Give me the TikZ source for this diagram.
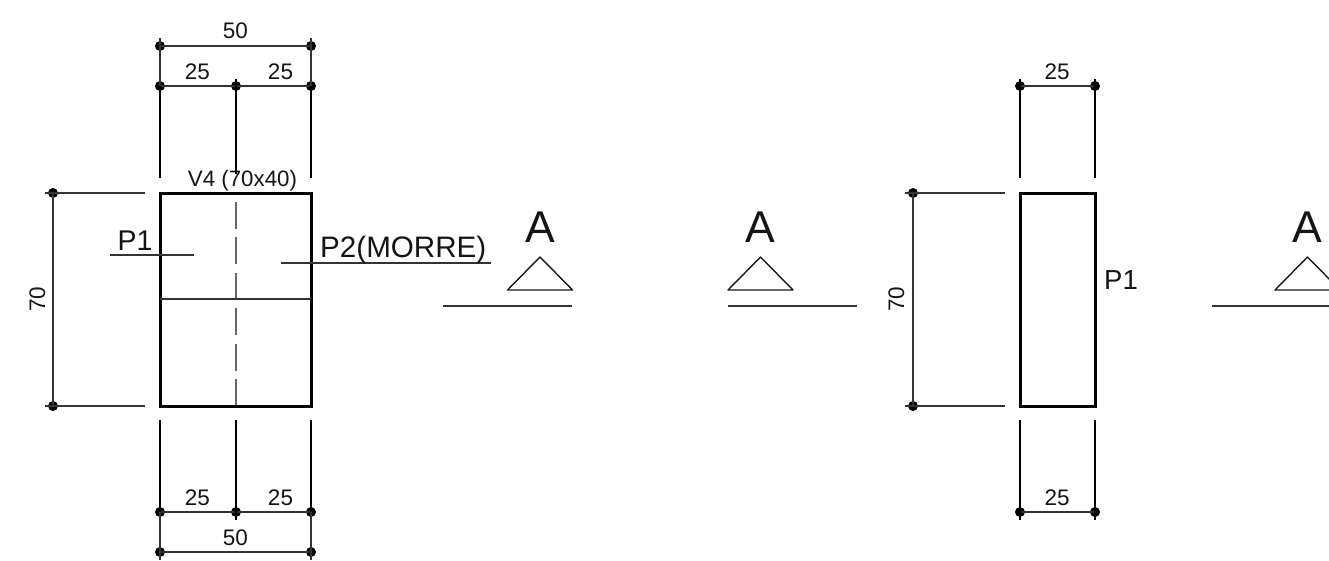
\documentclass[tikz,border=0pt]{standalone}
\usepackage{fontspec}
\setmainfont{Liberation Sans}
\tikzset{
  x=1pt,y=-1pt,
  dimline/.style={line width=1.3pt,draw=black!80},
  extline/.style={line width=1.5pt,draw=black},
  thinline/.style={line width=1.3pt,draw=black!80},
  wallline/.style={line width=3pt,draw=black,line join=miter},
  axisline/.style={line width=1.2pt,draw=black!60,dash pattern=on 27pt off 8.5pt},
  tri/.style={line width=1.4pt,draw=black!90},
  dot/.style={circle,fill=black,inner sep=0pt,minimum size=10pt},
  lab/.style={inner sep=0pt,anchor=base,text=black!92},
  dimtext/.style={lab,font=\fontsize{22.5}{22.5}\selectfont},
  ptext/.style={lab,font=\fontsize{29.6}{29.6}\selectfont},
  atext/.style={lab,font=\fontsize{44.5}{44.5}\selectfont}
}
\begin{document}
\begin{tikzpicture}
\useasboundingbox (0,0) rectangle (1329,560);
\clip (0,0) rectangle (1329,560);
% --- left section
\coordinate (rtl) at (160,193);
\coordinate (rtr) at (311,193);
\coordinate (rbr) at (311,406);
\coordinate (rbl) at (160,406);
\coordinate (axb) at (236,406);
\coordinate (axt) at (236,193);
\draw[axisline] (axb) -- (axt);
\draw[wallline] (rtl) -- (rtr) -- (rbr) -- (rbl) -- cycle;
\coordinate (ml) at (160,299);
\coordinate (mr) at (311,299);
\draw[thinline] (ml) -- (mr);
% top dimensions
\node[dot] (t1) at (160,46) {};
\node[dot] (t2) at (311,46) {};
\node[dot] (t3) at (160,86) {};
\node[dot] (t4) at (236,86) {};
\node[dot] (t5) at (311,86) {};
\coordinate (t1a) at (160,38);
\coordinate (t2a) at (311,38);
\coordinate (t1b) at (160,178);
\coordinate (t2b) at (311,178);
\coordinate (t4a) at (236,79);
\coordinate (t4b) at (236,174);
\draw[dimline] (t1.center) -- (t2.center);
\draw[dimline] (t3.center) -- (t5.center);
\draw[dimline] (t1a) -- (t3.center);
\draw[dimline] (t2a) -- (t5.center);
\draw[extline] (t3.center) -- (t1b);
\draw[extline] (t5.center) -- (t2b);
\draw[extline] (t4a) -- (t4b);
\node[dimtext] (n50a) at (235.5,38) {50};
\node[dimtext] (n25a) at (197.5,79) {25};
\node[dimtext] (n25b) at (280.5,79) {25};
\node[lab,font=\fontsize{22.3}{22.3}\selectfont] (v4) at (242.5,186) {V4 (70x40)};
% left dimension
\node[dot] (l1) at (53,193) {};
\node[dot] (l2) at (53,406) {};
\coordinate (l1a) at (45,193);
\coordinate (l1b) at (145,193);
\coordinate (l2a) at (45,406);
\coordinate (l2b) at (145,406);
\draw[dimline] (l1a) -- (l1b);
\draw[dimline] (l2a) -- (l2b);
\draw[dimline] (l1.center) -- (l2.center);
\node[dimtext,rotate=90] (n70a) at (45,299) {70};
% bottom dimensions
\node[dot] (b1) at (160,512) {};
\node[dot] (b2) at (236,512) {};
\node[dot] (b3) at (311,512) {};
\node[dot] (b4) at (160,552) {};
\node[dot] (b5) at (311,552) {};
\coordinate (b1a) at (160,420);
\coordinate (b1b) at (160,560);
\coordinate (b3a) at (311,420);
\coordinate (b3b) at (311,560);
\coordinate (b2a) at (236,420);
\coordinate (b2b) at (236,520);
\draw[dimline] (b1.center) -- (b3.center);
\draw[dimline] (b4.center) -- (b5.center);
\draw[extline] (b1a) -- (b1.center);
\draw[extline] (b3a) -- (b3.center);
\draw[dimline] (b1.center) -- (b1b);
\draw[dimline] (b3.center) -- (b3b);
\draw[extline] (b2a) -- (b2b);
\node[dimtext] (n25c) at (197.5,505) {25};
\node[dimtext] (n25d) at (280.5,505) {25};
\node[dimtext] (n50b) at (235.5,545) {50};
% leaders
\coordinate (p1a) at (110,255);
\coordinate (p1b) at (194,255);
\draw[dimline] (p1a) -- (p1b);
\node[ptext,font=\fontsize{28.5}{28.5}\selectfont] (p1) at (135,250) {P1};
\coordinate (p2a) at (281,263);
\coordinate (p2b) at (491,263);
\draw[dimline] (p2a) -- (p2b);
\node[ptext,anchor=base west] (p2) at (320,257) {P2(MORRE)};
% --- section marks
\foreach \nm/\ax/\lx/\rx in {s1/540/443/572, s2/760.5/728/857, s3/1307.5/1212/1340}{
  \coordinate (\nm apex) at (\ax,257);
  \coordinate (\nm bl) at (\ax-32.5,290);
  \coordinate (\nm br) at (\ax+32.5,290);
  \coordinate (\nm la) at (\lx,306);
  \coordinate (\nm lb) at (\rx,306);
  \draw[tri,line join=round] (\nm apex) -- (\nm bl) -- (\nm br) -- cycle;
  \draw[dimline] (\nm la) -- (\nm lb);
  \node[atext] (\nm t) at (\ax,242) {A};
}
% --- right section
\coordinate (qtl) at (1020,193);
\coordinate (qtr) at (1095,193);
\coordinate (qbr) at (1095,406);
\coordinate (qbl) at (1020,406);
\draw[wallline] (qtl) -- (qtr) -- (qbr) -- (qbl) -- cycle;
\node[dot] (q1) at (1020,86) {};
\node[dot] (q2) at (1095,86) {};
\coordinate (q1a) at (1020,79);
\coordinate (q1b) at (1020,178);
\coordinate (q2a) at (1095,79);
\coordinate (q2b) at (1095,178);
\draw[dimline] (q1.center) -- (q2.center);
\draw[extline] (q1a) -- (q1b);
\draw[extline] (q2a) -- (q2b);
\node[dimtext] (n25e) at (1057,79) {25};
\node[dot] (q3) at (913,193) {};
\node[dot] (q4) at (913,406) {};
\coordinate (q3a) at (905,193);
\coordinate (q3b) at (1005,193);
\coordinate (q4a) at (905,406);
\coordinate (q4b) at (1005,406);
\draw[dimline] (q3a) -- (q3b);
\draw[dimline] (q4a) -- (q4b);
\draw[dimline] (q3.center) -- (q4.center);
\node[dimtext,rotate=90] (n70b) at (904,299) {70};
\node[dot] (q5) at (1020,512) {};
\node[dot] (q6) at (1095,512) {};
\coordinate (q5a) at (1020,420);
\coordinate (q5b) at (1020,520);
\coordinate (q6a) at (1095,420);
\coordinate (q6b) at (1095,520);
\draw[dimline] (q5.center) -- (q6.center);
\draw[extline] (q5a) -- (q5b);
\draw[extline] (q6a) -- (q6b);
\node[dimtext] (n25f) at (1057,505) {25};
\node[lab,anchor=base west,font=\fontsize{27.5}{27.5}\selectfont] (p1r) at (1104,289) {P1};
\end{tikzpicture}
\end{document}
